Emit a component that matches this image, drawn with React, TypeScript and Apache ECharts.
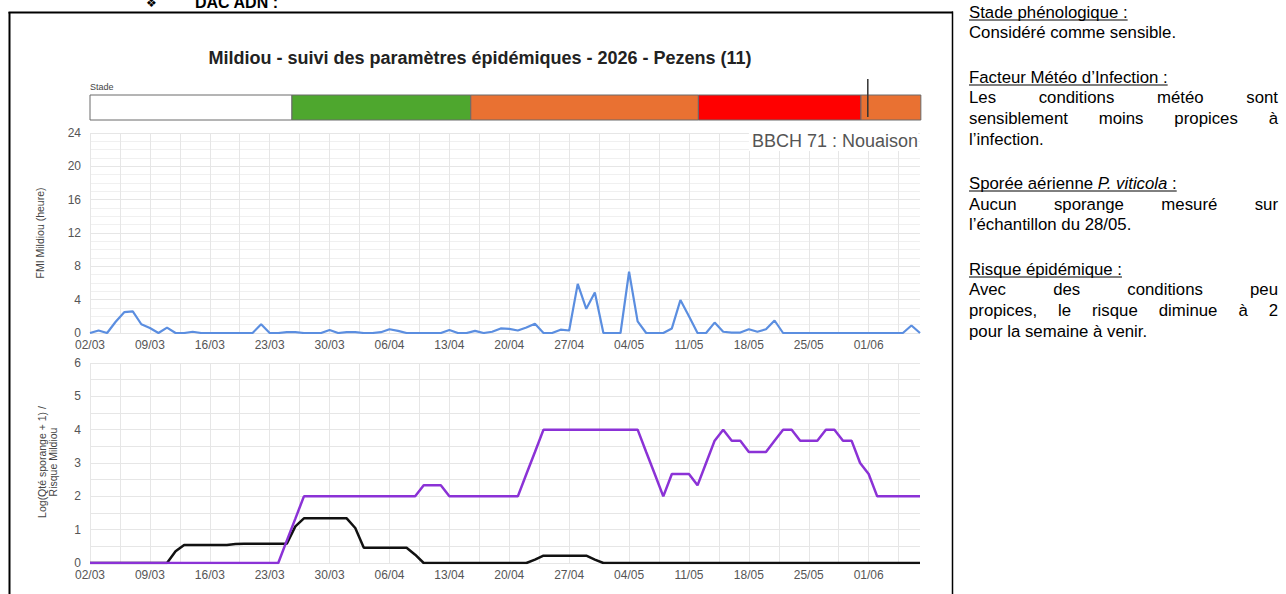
import React, { useEffect, useRef } from 'react';
import * as echarts from 'echarts';

const FONT = '"Liberation Sans", Arial, Helvetica, sans-serif';

// ---------- data ----------
const monthLengths: Record<number, number> = { 3: 31, 4: 30, 5: 31, 6: 30 };
const dayLabels: string[] = (() => {
  const out: string[] = [];
  let d = 2;
  let m = 3;
  for (let i = 0; i < 98; i++) {
    out.push(String(d).padStart(2, '0') + '/' + String(m).padStart(2, '0'));
    d++;
    if (d > monthLengths[m]) { d = 1; m++; }
  }
  return out;
})();

// FMI Mildiou (heure), daily from 02/03 to 07/06
const fmiHours = [
  0, 0.3, 0, 1.35, 2.5, 2.6, 1.05, 0.6, 0, 0.65,
  0, 0, 0.15, 0, 0, 0, 0, 0, 0, 0,
  1.05, 0, 0, 0.1, 0.1, 0, 0, 0, 0.35, 0,
  0.1, 0.1, 0, 0, 0.1, 0.45, 0.25, 0, 0, 0,
  0, 0, 0.35, 0, 0, 0.25, 0, 0.15, 0.55, 0.5,
  0.3, 0.65, 1.1, 0, 0, 0.4, 0.3, 5.9, 2.9, 4.85,
  0, 0, 0, 7.35, 1.4, 0, 0, 0, 0.55, 3.95,
  2.0, 0, 0, 1.25, 0.15, 0.05, 0.05, 0.45, 0.15, 0.45,
  1.5, 0, 0, 0, 0, 0, 0, 0, 0, 0,
  0, 0, 0, 0, 0, 0, 0.9, 0,
];

// Risque Mildiou (purple)
const risqueMildiou = [
  0, 0, 0, 0, 0, 0, 0, 0, 0, 0,
  0, 0, 0, 0, 0, 0, 0, 0, 0, 0,
  0, 0, 0, 0.67, 1.33, 2, 2, 2, 2, 2,
  2, 2, 2, 2, 2, 2, 2, 2, 2, 2.33,
  2.33, 2.33, 2, 2, 2, 2, 2, 2, 2, 2,
  2, 2.67, 3.33, 4, 4, 4, 4, 4, 4, 4,
  4, 4, 4, 4, 4, 3.33, 2.67, 2, 2.67, 2.67,
  2.67, 2.33, 3, 3.67, 4, 3.67, 3.67, 3.33, 3.33, 3.33,
  3.67, 4, 4, 3.67, 3.67, 3.67, 4, 4, 3.67, 3.67,
  3, 2.67, 2, 2, 2, 2, 2, 2,
];

// Log(Qté sporange + 1) (black)
const logSporange = [
  0, 0, 0, 0, 0, 0, 0, 0, 0, 0,
  0.35, 0.54, 0.54, 0.54, 0.54, 0.54, 0.54, 0.57, 0.58, 0.58,
  0.58, 0.58, 0.58, 0.58, 1.1, 1.34, 1.34, 1.34, 1.34, 1.34,
  1.34, 1.05, 0.46, 0.46, 0.46, 0.46, 0.46, 0.46, 0.25, 0,
  0, 0, 0, 0, 0, 0, 0, 0, 0, 0,
  0, 0, 0.1, 0.22, 0.22, 0.22, 0.22, 0.22, 0.22, 0.1,
  0, 0, 0, 0, 0, 0, 0, 0, 0, 0,
  0, 0, 0, 0, 0, 0, 0, 0, 0, 0,
  0, 0, 0, 0, 0, 0, 0, 0, 0, 0,
  0, 0, 0, 0, 0, 0, 0, 0,
];

// Stade (phenological stage bar), in days from 02/03
const stageStart = [0, 23.6, 44.5, 71.1, 90.1];
const stageEnd = [23.6, 44.5, 71.1, 90.1, 97.1];
const stageColors = ['#ffffff', '#4ea72e', '#e97132', '#ff0000', '#e97132'];
const todayMarker = [90.9];

const chartTitle = 'Mildiou - suivi des paramètres épidémiques - 2026 - Pezens (11)';
const stageNote = 'BBCH 71 : Nouaison';

type PanelLine =
  | { kind: 'heading'; parts: { t: string; italic?: boolean }[]; y: number }
  | { kind: 'justify'; text: string; y: number }
  | { kind: 'left'; text: string; y: number };

const panelLines: PanelLine[] = [
  { kind: 'heading', parts: [{ t: 'Stade phénologique :' }], y: 12 },
  { kind: 'left', text: 'Considéré comme sensible.', y: 32.5 },
  { kind: 'heading', parts: [{ t: 'Facteur Météo d’Infection :' }], y: 77 },
  { kind: 'justify', text: 'Les conditions météo sont', y: 97.5 },
  { kind: 'justify', text: 'sensiblement moins propices à', y: 118 },
  { kind: 'left', text: 'l’infection.', y: 139 },
  { kind: 'heading', parts: [{ t: 'Sporée aérienne ' }, { t: 'P. viticola', italic: true }, { t: ' :' }], y: 183 },
  { kind: 'justify', text: 'Aucun sporange mesuré sur', y: 204 },
  { kind: 'left', text: 'l’échantillon du 28/05.', y: 224.5 },
  { kind: 'heading', parts: [{ t: 'Risque épidémique :' }], y: 269 },
  { kind: 'justify', text: 'Avec des conditions peu', y: 289.5 },
  { kind: 'justify', text: 'propices, le risque diminue à 2', y: 310 },
  { kind: 'left', text: 'pour la semaine à venir.', y: 331 },
];

// ---------- helpers ----------
const PANEL_X = 969;
const PANEL_W = 309;
const PFS = 16.8;

function buildPanel(): any[] {
  const canvas = document.createElement('canvas');
  const ctx = canvas.getContext('2d')!;
  const tw = (t: string, italic = false) => {
    ctx.font = `${italic ? 'italic ' : ''}${PFS}px "Liberation Sans"`;
    return ctx.measureText(t).width;
  };
  const els: any[] = [];
  const txt = (text: string, x: number, y: number, italic = false) => ({
    type: 'text',
    x,
    y,
    silent: true,
    style: {
      text,
      fontSize: PFS,
      fontFamily: FONT,
      fontStyle: italic ? 'italic' : 'normal',
      fill: '#000',
      align: 'left',
      verticalAlign: 'middle',
    },
  });
  for (const line of panelLines) {
    if (line.kind === 'heading') {
      let x = PANEL_X;
      for (const p of line.parts) {
        els.push(txt(p.t, x, line.y, !!p.italic));
        x += tw(p.t, !!p.italic);
      }
      els.push({
        type: 'line',
        silent: true,
        shape: { x1: PANEL_X, y1: line.y + 8, x2: x, y2: line.y + 8 },
        style: { stroke: '#000', lineWidth: 1 },
      });
    } else if (line.kind === 'justify') {
      const words = line.text.split(' ');
      const widths = words.map((w) => tw(w));
      const total = widths.reduce((a, b) => a + b, 0);
      const gap = (PANEL_W - total) / (words.length - 1);
      let x = PANEL_X;
      words.forEach((w, i) => {
        els.push(txt(w, x, line.y));
        x += widths[i] + gap;
      });
    } else {
      els.push(txt(line.text, PANEL_X, line.y));
    }
  }
  return els;
}

const gridColor = '#e6e6e6';

function xAxisCfg(gridIndex: number) {
  return {
    type: 'value',
    gridIndex,
    min: 0,
    max: 97,
    interval: 7,
    axisLine: { show: false },
    axisTick: { show: false },
    axisLabel: {
      formatter: (v: number) => (v % 7 === 0 ? dayLabels[v] ?? '' : ''),
      fontSize: 12,
      fontFamily: FONT,
      color: '#555',
      margin: 6,
    },
    splitLine: { show: true, showMaxLine: false, lineStyle: { color: gridColor, width: 1 } },
    minorTick: { show: false, splitNumber: 2 },
    minorSplitLine: { show: true, lineStyle: { color: gridColor, width: 1 } },
  };
}

export default function App() {
  const ref = useRef<HTMLDivElement>(null);
  useEffect(() => {
    if (!ref.current) return;
    const chart = echarts.init(ref.current, undefined, { renderer: 'svg' });

    const graphic: any[] = [
      // page frame
      { type: 'line', silent: true, shape: { x1: 9.5, y1: 12, x2: 9.5, y2: 594 }, style: { stroke: '#000', lineWidth: 2 } },
      { type: 'line', silent: true, shape: { x1: 8.5, y1: 12.5, x2: 953, y2: 12.5 }, style: { stroke: '#000', lineWidth: 2 } },
      { type: 'line', silent: true, shape: { x1: 952.5, y1: 11.5, x2: 952.5, y2: 594 }, style: { stroke: '#000', lineWidth: 1.5 } },
      // header (cut off at top, as in the reference)
      { type: 'text', silent: true, x: 146, y: 9, style: { text: '❖', fontSize: 12, fontFamily: '"DejaVu Sans"', fill: '#000', verticalAlign: 'bottom' } },
      { type: 'text', silent: true, x: 195, y: 10, style: { text: 'DAC ADN :', fontSize: 16, fontWeight: 'bold', fontFamily: FONT, fill: '#000', verticalAlign: 'bottom' } },
      // chart title
      { type: 'text', silent: true, x: 480, y: 58, style: { text: chartTitle, fontSize: 18, fontWeight: 'bold', fontFamily: FONT, fill: '#222', align: 'center', verticalAlign: 'middle' } },
      { type: 'text', silent: true, x: 90, y: 87, style: { text: 'Stade', fontSize: 9, fontFamily: FONT, fill: '#444', align: 'left', verticalAlign: 'middle' } },
      // axis names
      { type: 'text', silent: true, x: 40, y: 233, rotation: Math.PI / 2, style: { text: 'FMI Mildiou (heure)', fontSize: 10.5, fontFamily: FONT, fill: '#444', align: 'center', verticalAlign: 'middle' } },
      { type: 'text', silent: true, x: 47, y: 462, rotation: Math.PI / 2, style: { text: 'Log(Qté sporange + 1) /\nRisque Mildiou', fontSize: 10.5, lineHeight: 11, fontFamily: FONT, fill: '#444', align: 'center', verticalAlign: 'middle' } },
      ...buildPanel(),
      // stage note on top of the grid (white box behind)
      { type: 'text', silent: true, x: 918, y: 141, z: 100, style: { text: stageNote, fontSize: 18, fontFamily: FONT, fill: '#555', align: 'right', verticalAlign: 'middle', backgroundColor: '#ffffff', padding: [1, 0, 1, 3] } },
    ];

    const option: any = {
      animation: false,
      backgroundColor: '#ffffff',
      grid: [
        { left: 90, top: 133, width: 830, height: 200 },
        { left: 90, top: 363, width: 830, height: 200 },
        { left: 90, top: 95, width: 830, height: 25 },
      ],
      xAxis: [
        xAxisCfg(0),
        xAxisCfg(1),
        { type: 'value', gridIndex: 2, min: 0, max: 97, show: false },
      ],
      yAxis: [
        {
          type: 'value', gridIndex: 0, min: 0, max: 24, interval: 4,
          axisLine: { show: false }, axisTick: { show: false },
          axisLabel: { fontSize: 12, fontFamily: FONT, color: '#555', margin: 9 },
          splitLine: { lineStyle: { color: gridColor, width: 1 } },
          minorTick: { show: false, splitNumber: 4 },
          minorSplitLine: { show: true, lineStyle: { color: '#f0f0f0', width: 1 } },
        },
        {
          type: 'value', gridIndex: 1, min: 0, max: 6, interval: 1,
          axisLine: { show: false }, axisTick: { show: false },
          axisLabel: { fontSize: 12, fontFamily: FONT, color: '#555', margin: 9 },
          splitLine: { lineStyle: { color: gridColor, width: 1 } },
          minorTick: { show: false, splitNumber: 2 },
          minorSplitLine: { show: true, lineStyle: { color: gridColor, width: 1 } },
        },
        { type: 'value', gridIndex: 2, min: 0, max: 1, show: false },
      ],
      series: [
        {
          name: 'FMI Mildiou',
          type: 'line', xAxisIndex: 0, yAxisIndex: 0,
          data: fmiHours.map((v, i) => [i, v]),
          showSymbol: false, symbol: 'none',
          lineStyle: { color: '#5b8ee0', width: 2.2 },
          itemStyle: { color: '#5b8ee0' },
          z: 3,
        },
        {
          name: 'Log(Qté sporange + 1)',
          type: 'line', xAxisIndex: 1, yAxisIndex: 1,
          data: logSporange.map((v, i) => [i, v]),
          showSymbol: false, symbol: 'none',
          lineStyle: { color: '#111111', width: 2.5 },
          itemStyle: { color: '#111111' },
          z: 3,
        },
        {
          name: 'Risque Mildiou',
          type: 'line', xAxisIndex: 1, yAxisIndex: 1,
          data: risqueMildiou.map((v, i) => [i, v]),
          showSymbol: false, symbol: 'none',
          lineStyle: { color: '#8b32d6', width: 2.5 },
          itemStyle: { color: '#8b32d6' },
          z: 4,
        },
        {
          name: 'Stade',
          type: 'custom', xAxisIndex: 2, yAxisIndex: 2,
          data: stageStart.map((s, i) => [s, stageEnd[i]]),
          encode: { x: [0, 1] },
          renderItem: (params: any, api: any) => {
            const cs = params.coordSys;
            const a = api.coord([api.value(0), 0]);
            const b = api.coord([api.value(1), 0]);
            return {
              type: 'rect',
              shape: { x: a[0], y: cs.y, width: b[0] - a[0], height: cs.height },
              style: { fill: stageColors[params.dataIndex], stroke: '#6a6a6a', lineWidth: 1 },
            };
          },
          z: 2,
        },
        {
          name: 'Aujourd’hui',
          type: 'custom', xAxisIndex: 2, yAxisIndex: 2,
          data: todayMarker.map((v) => [v]),
          encode: { x: 0 },
          renderItem: (params: any, api: any) => {
            const cs = params.coordSys;
            const p = api.coord([api.value(0), 0]);
            return {
              type: 'line',
              shape: { x1: p[0], y1: cs.y - 16, x2: p[0], y2: cs.y + cs.height - 3 },
              style: { stroke: '#333', lineWidth: 1.5 },
            };
          },
          z: 5,
        },
      ],
      graphic,
    };

    chart.setOption(option);
    return () => chart.dispose();
  }, []);

  return (
    <div
      ref={ref}
      style={{ position: 'absolute', left: 0, top: 0, width: 1286, height: 594, background: '#fff' }}
    />
  );
}
